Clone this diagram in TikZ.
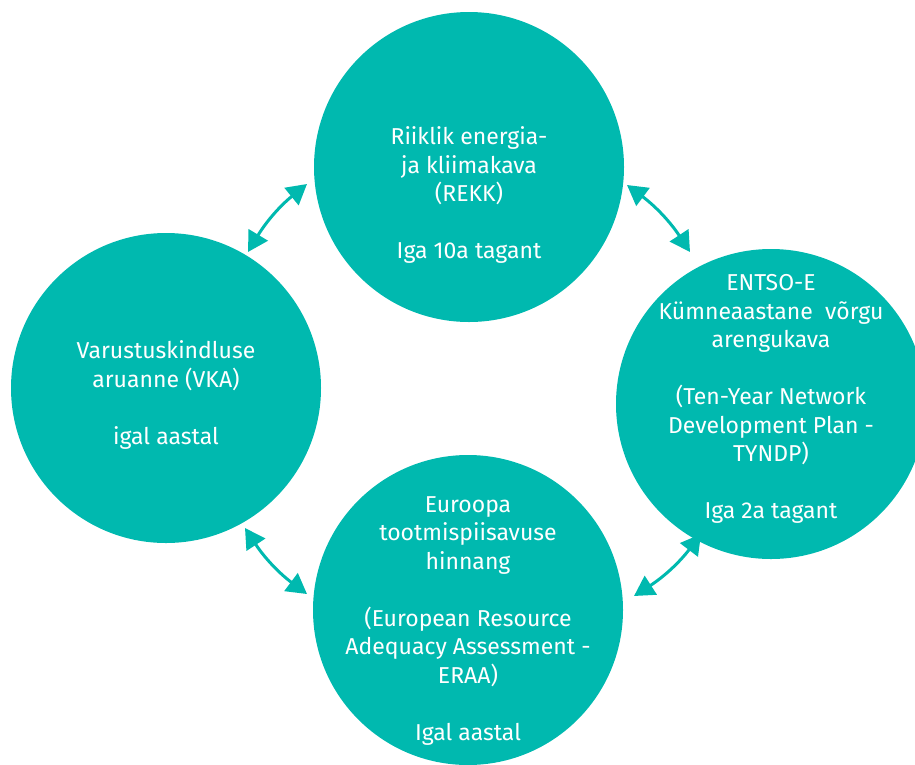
\documentclass[tikz,border=0pt]{standalone}
\usepackage{fontspec}
\setmainfont{Fira Sans}
\usetikzlibrary{arrows.meta}
\definecolor{teal1}{RGB}{0,185,175}
\tikzset{
  bubble/.style={circle, fill=teal1, minimum size=310pt, inner sep=0pt},
  btext/.style={text=white, align=center, font=\fontsize{23pt}{28.5pt}\selectfont, inner sep=0pt},
  link/.style={draw=teal1, line width=3pt, {Triangle[length=20pt,width=22pt]}-{Triangle[length=20pt,width=22pt]}, bend left=10}
}
\begin{document}
\begin{tikzpicture}[x=1pt,y=-1pt]
\useasboundingbox (0,0) rectangle (915,764);
\node[bubble] (top) at (469,167) {};
\node[bubble] (left) at (166,388) {};
\node[bubble] (right) at (771,404) {};
\node[bubble] (bottom) at (468,610) {};

\node[btext] (ttop) at (469,195) {Riiklik energia-\\ja kliimakava\\(REKK)\\[28.5pt]Iga 10a tagant};
\node[btext] (tleft) at (166,395) {Varustuskindluse\\aruanne (VKA)\\[28.5pt]igal aastal};
\node[btext] (tright) at (771,399) {ENTSO-E\\Kümneaastane\ \ võrgu\\arengukava\\[28.5pt](Ten-Year Network\\Development Plan -\\TYNDP)\\[28.5pt]Iga 2a tagant};
\node[btext] (tbottom) at (468,621) {Euroopa\\tootmispiisavuse\\hinnang\\[28.5pt](European Resource\\Adequacy Assessment -\\ERAA)\\[28.5pt]Igal aastal};

\coordinate (a1s) at (248,252);
\coordinate (a1e) at (307,184);
\coordinate (a2s) at (627,185);
\coordinate (a2e) at (690,252);
\coordinate (a3s) at (701,534);
\coordinate (a3e) at (634,596);
\coordinate (a4s) at (307,594);
\coordinate (a4e) at (245,528);

\draw[link] (a1s) to (a1e);
\draw[link] (a2s) to (a2e);
\draw[link] (a3s) to (a3e);
\draw[link] (a4s) to (a4e);
\end{tikzpicture}
\end{document}
